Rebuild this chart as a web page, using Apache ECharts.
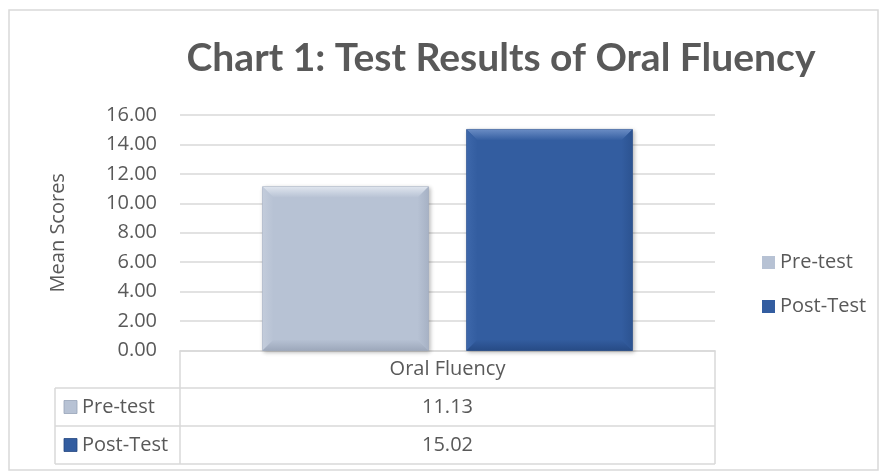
<!DOCTYPE html>
<html>
<head>
<meta charset="utf-8">
<script src="https://cdn.jsdelivr.net/npm/echarts@6/dist/echarts.min.js"></script>
<style>
html,body{margin:0;padding:0;background:#fff;}
#chart{width:881px;height:474px;}
</style>
</head>
<body>
<div id="chart"></div>
<script>
// ---- data ----
const titleText = 'Chart 1: Test Results of Oral Fluency';
const categories = ['Oral Fluency'];
const seriesNames = ['Pre-test', 'Post-Test'];
const preTest = [11.13];
const postTest = [15.02];
const yAxisName = 'Mean Scores';
const yMin = 0, yMax = 16, yInterval = 2;

// ---- style ----
const FONT = 'Open Sans';
const TFONT = 'Lato';
const FS = 20;
const TXT = '#595959';
const LINE = '#d9d9d9';
const palette = [
  {main:'#b7c2d4', top:'#dfe5ee', left:'#c3ccdb', right:'#a7b2c5', bottom:'#9da8bb', border:'#97a3b7'},
  {main:'#335da0', top:'#6a8cc4', left:'#3d67aa', right:'#2c5391', bottom:'#274b86', border:'#244680'}
];

const gridL = 180, gridR = 715, gridTop = 115, gridBottomY = 350.5;
const tableLeft = 55;
const rowY = [350.5, 388, 426, 464];

function makeRender(idx) {
  const c = palette[idx];
  return function (params, api) {
    const cat = api.value(0), val = api.value(1);
    const base = api.coord([cat, 0]);
    const top = api.coord([cat, val]);
    const band = api.size([1, 0])[0];
    const bw = band * 0.31;
    const gap = bw * 0.23;
    const cx = base[0] + (idx === 0 ? -1 : 1) * (bw + gap) / 2;
    const x0 = cx - bw / 2, x1 = cx + bw / 2, y0 = top[1], y1 = base[1];
    const b = 11;
    const lg = (x, y, x2, y2, a, z) => ({type:'linear', x:x, y:y, x2:x2, y2:y2, colorStops:[{offset:0,color:a},{offset:1,color:z}]});
    return {
      type: 'group',
      children: [
        {type:'rect', shape:{x:x0, y:y0, width:bw, height:y1 - y0},
          style:{fill:c.main, stroke:c.border, lineWidth:0.6, shadowBlur:4, shadowOffsetX:1.5, shadowOffsetY:1.5, shadowColor:'rgba(0,0,0,0.28)'}},
        {type:'polygon', shape:{points:[[x0,y0],[x1,y0],[x1-b,y0+b],[x0+b,y0+b]]},
          style:{fill:lg(0,0,0,1,c.top,c.main)}},
        {type:'polygon', shape:{points:[[x0,y0],[x0+b,y0+b],[x0+b,y1-b],[x0,y1]]},
          style:{fill:lg(0,0,1,0,c.left,c.main)}},
        {type:'polygon', shape:{points:[[x1,y0],[x1-b,y0+b],[x1-b,y1-b],[x1,y1]]},
          style:{fill:lg(1,0,0,0,c.right,c.main)}},
        {type:'polygon', shape:{points:[[x0,y1],[x0+b,y1-b],[x1-b,y1-b],[x1,y1]]},
          style:{fill:lg(0,1,0,0,c.bottom,c.main)}}
      ]
    };
  };
}

const dataSets = [preTest, postTest];
const series = seriesNames.map((name, i) => ({
  name: name,
  type: 'custom',
  renderItem: makeRender(i),
  itemStyle: {color: palette[i].main},
  encode: {x: 0, y: 1},
  data: dataSets[i].map((v, k) => [k, v]),
  z: 3
}));

// table graphics
const graphics = [];
graphics.push({type:'rect', shape:{x:9, y:10, width:869, height:460}, style:{fill:'none', stroke:LINE, lineWidth:1.5}, silent:true});
[rowY[1], rowY[2], rowY[3]].forEach(y => {
  graphics.push({type:'line', shape:{x1:tableLeft, y1:y, x2:gridR, y2:y}, style:{stroke:LINE, lineWidth:1.5}});
});
graphics.push({type:'line', shape:{x1:tableLeft, y1:rowY[1], x2:tableLeft, y2:rowY[3]}, style:{stroke:LINE, lineWidth:1.5}});
graphics.push({type:'line', shape:{x1:gridL, y1:rowY[0], x2:gridL, y2:rowY[3]}, style:{stroke:LINE, lineWidth:1.5}});
graphics.push({type:'line', shape:{x1:gridR, y1:rowY[0], x2:gridR, y2:rowY[3]}, style:{stroke:LINE, lineWidth:1.5}});
seriesNames.forEach((name, i) => {
  const cy = (rowY[i + 1] + rowY[i + 2]) / 2;
  graphics.push({type:'rect', shape:{x:64, y:cy - 6.5, width:13, height:13},
    style:{fill:palette[i].main, stroke:palette[i].border, lineWidth:0.8}});
  graphics.push({type:'text', x:82, y:cy, style:{text:name, font:FS + 'px "' + FONT + '"', fill:TXT, verticalAlign:'middle', align:'left'}});
  const v = dataSets[i][0];
  graphics.push({type:'text', x:(gridL + gridR) / 2, y:cy, style:{text:v.toFixed(2), font:FS + 'px "' + FONT + '"', fill:TXT, verticalAlign:'middle', align:'center'}});
});

const option = {
  animation: false,
  backgroundColor: '#fff',
  title: {
    text: titleText,
    left: 496,
    top: 34,
    textAlign: 'center',
    textStyle: {fontFamily: TFONT, fontWeight: 'bold', fontSize: 39, color: TXT}
  },
  legend: {
    orient: 'vertical',
    left: 757,
    top: 246,
    itemWidth: 13,
    itemHeight: 13,
    itemGap: 21,
    icon: 'rect',
    textStyle: {fontFamily: FONT, fontSize: FS, color: TXT, lineHeight: 23},
    data: seriesNames
  },
  grid: {left: gridL, right: 881 - gridR, top: gridTop, bottom: 474 - gridBottomY, containLabel: false},
  xAxis: {
    type: 'category',
    data: categories,
    axisLine: {show: true, lineStyle: {color: LINE, width: 1.5}},
    axisTick: {show: false},
    axisLabel: {fontFamily: FONT, fontSize: FS, color: TXT, margin: 9},
    splitLine: {show: false}
  },
  yAxis: {
    type: 'value',
    min: yMin, max: yMax, interval: yInterval,
    name: yAxisName,
    nameLocation: 'middle',
    nameGap: 112,
    nameTextStyle: {fontFamily: FONT, fontSize: FS, color: TXT},
    axisLine: {show: false},
    axisTick: {show: false},
    axisLabel: {fontFamily: FONT, fontSize: FS, color: TXT, margin: 23, formatter: v => v.toFixed(2)},
    splitLine: {lineStyle: {color: LINE, width: 1.5}}
  },
  series: series,
  graphic: graphics
};

const chart = echarts.init(document.getElementById('chart'), null, {renderer: 'canvas'});
chart.setOption(option);
</script>
</body>
</html>
